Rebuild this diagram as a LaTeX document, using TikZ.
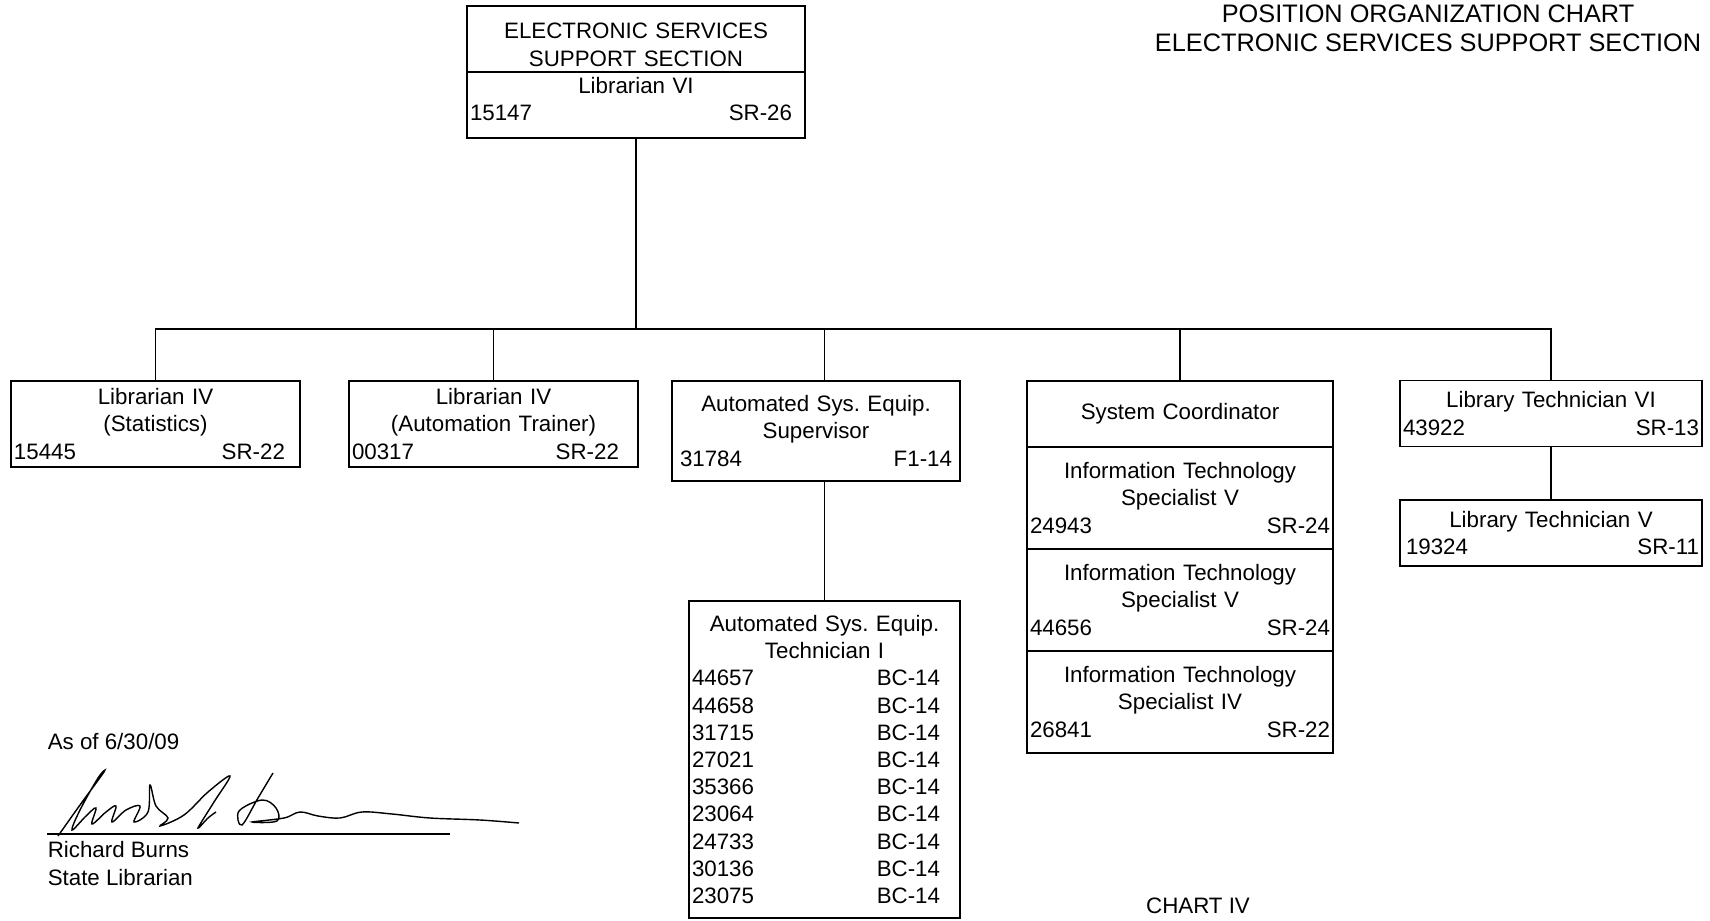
\documentclass[tikz,border=0pt]{standalone}
\usepackage{fontspec}
\setmainfont{Liberation Sans}
\usetikzlibrary{positioning}
\setlength\parindent{0pt}
\frenchspacing
\newcommand\posn[3][0pt]{\leavevmode\hbox to\hsize{#2\hfill#3\kern#1}}
\newcommand\bcrow[1]{\posn[3.4mm]{#1}{BC-14}}

\begin{document}
\begin{tikzpicture}[x=0.2mm,y=-0.2mm,line width=.9pt,
  posbox/.style={draw,align=center,inner xsep=.6mm,inner ysep=0pt,outer sep=0pt,
    font=\fontsize{12.7}{15.5}\selectfont},
  lbl/.style={font=\fontsize{12.7}{15.5}\selectfont,inner sep=0pt}]
\fill[white] (0,0) rectangle (1710,921);
\useasboundingbox (0,0) rectangle (1710,921);

\node[lbl,align=center,anchor=north,font=\fontsize{14.4}{16.7}\selectfont] (title) at (1428,4)
  {POSITION ORGANIZATION CHART\\ELECTRONIC SERVICES SUPPORT SECTION};

\node[posbox,text width=66.4mm,minimum height=26.4mm] (ess) at (636,72)
  {ELECTRONIC SERVICES\\SUPPORT SECTION\\Librarian VI\\\posn[2mm]{15147}{SR-26}};
\draw (ess.west) -- (ess.east);

\node[posbox,text width=56.6mm,minimum height=17.2mm] (stat) at (155.5,424)
  {Librarian IV\\(Statistics)\\\posn[2.4mm]{15445}{SR-22}};
\node[posbox,text width=56.6mm,minimum height=17.2mm] (trainer) at (493.5,424)
  {Librarian IV\\(Automation Trainer)\\\posn[3.2mm]{00317}{SR-22}};
\node[posbox,text width=56.4mm,minimum height=20mm] (asesup) at (816,431)
  {Automated Sys. Equip.\\Supervisor\\\posn[1mm]{\kern1mm31784}{F1-14}};

\node[posbox,text width=60mm,minimum height=13.2mm] (sysco) at (1180,414) {System Coordinator};
\node[posbox,text width=60mm,minimum height=20.4mm,below=0pt of sysco] (its1)
  {Information Technology\\Specialist V\\\posn{24943}{SR-24}};
\node[posbox,text width=60mm,minimum height=20.4mm,below=0pt of its1] (its2)
  {Information Technology\\Specialist V\\\posn{44656}{SR-24}};
\node[posbox,text width=60mm,minimum height=20.4mm,below=0pt of its2] (its3)
  {Information Technology\\Specialist IV\\\posn{26841}{SR-22}};

\node[posbox,text width=59.2mm,minimum height=13.2mm] (libtech6) at (1551,413.5)
  {Library Technician VI\\\posn{43922}{SR-13}};
\node[posbox,text width=59.2mm,minimum height=13.2mm] (libtech5) at (1551,533)
  {Library Technician V\\\posn{\kern.6mm19324}{SR-11}};

\node[posbox,text width=53mm,minimum height=63.4mm] (asetech) at (824.5,759.5)
  {Automated Sys. Equip.\\Technician I\\\bcrow{44657}\\\bcrow{44658}\\\bcrow{31715}\\
   \bcrow{27021}\\\bcrow{35366}\\\bcrow{23064}\\\bcrow{24733}\\\bcrow{30136}\\\bcrow{23075}};

\coordinate (bus) at (0,329);
\draw (ess.south) -- (ess.south |- bus);
\draw (stat.north) -- (stat.north |- bus) -- (libtech6.north |- bus) -- (libtech6.north);
\foreach \n in {trainer,sysco} \draw (\n.north) -- (\n.north |- bus);
\draw (asetech.north |- bus) -- (asetech.north |- asesup.north);
\draw (asesup.south -| asetech.north) -- (asetech.north);
\draw (libtech6.south) -- (libtech5.north);

\node[lbl,anchor=base west] (asof) at (47,749) {As of 6/30/09};
\draw[line width=.8pt] plot[smooth,tension=.6] coordinates {(58,836) (80,805) (104,772) (98,778)
  (80,810) (72,830) (86,816) (96,808) (92,824) (106,812) (116,806) (112,822) (126,810) (140,806)
  (134,822) (148,812) (150,785) (156,806) (168,818) (160,826) (184,815) (208,792) (230,776)
  (214,802) (198,828) (208,818) (216,812)};
\draw[line width=.8pt] plot[smooth,tension=.6] coordinates {(273,773) (258,798) (242,825)
  (239,811) (262,800) (276,808) (277,821) (252,822) (284,818) (300,812) (318,816) (340,818)
  (362,812) (392,814) (430,818) (480,820) (519,823)};
\draw (47,834) -- (450,834);
\node[lbl,anchor=north west,align=left] (sign) at (47,841) {Richard Burns\\State Librarian};

\node[lbl,anchor=base] (chart) at (1198,913) {CHART IV};
\end{tikzpicture}
\end{document}
